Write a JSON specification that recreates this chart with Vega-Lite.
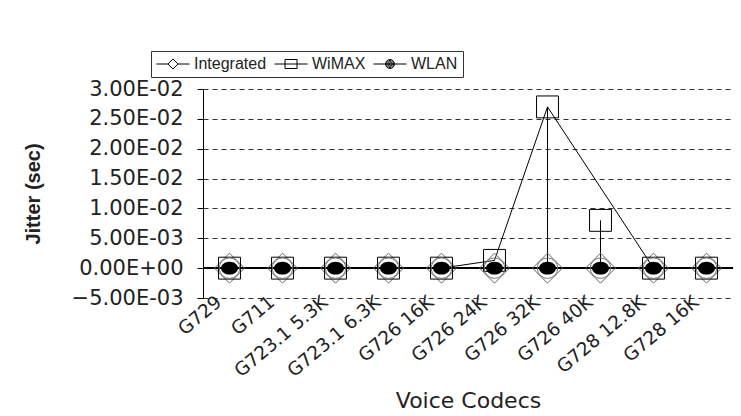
{
  "$schema": "https://vega.github.io/schema/vega-lite/v6.json",
  "width": 530,
  "height": 209,
  "autosize": {"type": "none"},
  "padding": {"left": 203, "top": 89, "right": 8, "bottom": 118},
  "background": "white",
  "config": {"view": {"stroke": null}, "font": "Liberation Sans"},
  "data": {
    "values": [
      {"series": "Integrated", "codec": "G729", "jitter": 0},
      {"series": "Integrated", "codec": "G711", "jitter": 0},
      {"series": "Integrated", "codec": "G723.1 5.3K", "jitter": 0},
      {"series": "Integrated", "codec": "G723.1 6.3K", "jitter": 0},
      {"series": "Integrated", "codec": "G726 16K", "jitter": 0},
      {"series": "Integrated", "codec": "G726 24K", "jitter": 0},
      {"series": "Integrated", "codec": "G726 32K", "jitter": 0},
      {"series": "Integrated", "codec": "G726 40K", "jitter": 0},
      {"series": "Integrated", "codec": "G728 12.8K", "jitter": 0},
      {"series": "Integrated", "codec": "G728 16K", "jitter": 0},
      {"series": "WiMAX", "codec": "G729", "jitter": 0},
      {"series": "WiMAX", "codec": "G711", "jitter": 0},
      {"series": "WiMAX", "codec": "G723.1 5.3K", "jitter": 0},
      {"series": "WiMAX", "codec": "G723.1 6.3K", "jitter": 0},
      {"series": "WiMAX", "codec": "G726 16K", "jitter": 0},
      {"series": "WiMAX", "codec": "G726 24K", "jitter": 0.0013},
      {"series": "WiMAX", "codec": "G726 32K", "jitter": 0.027},
      {"series": "WiMAX", "codec": "G726 40K", "jitter": 0.008},
      {"series": "WiMAX", "codec": "G728 12.8K", "jitter": 0},
      {"series": "WiMAX", "codec": "G728 16K", "jitter": 0},
      {"series": "WLAN", "codec": "G729", "jitter": 0},
      {"series": "WLAN", "codec": "G711", "jitter": 0},
      {"series": "WLAN", "codec": "G723.1 5.3K", "jitter": 0},
      {"series": "WLAN", "codec": "G723.1 6.3K", "jitter": 0},
      {"series": "WLAN", "codec": "G726 16K", "jitter": 0},
      {"series": "WLAN", "codec": "G726 24K", "jitter": 0},
      {"series": "WLAN", "codec": "G726 32K", "jitter": 0},
      {"series": "WLAN", "codec": "G726 40K", "jitter": 0},
      {"series": "WLAN", "codec": "G728 12.8K", "jitter": 0},
      {"series": "WLAN", "codec": "G728 16K", "jitter": 0}
    ]
  },
  "layer": [
    {
      "mark": {"type": "rule", "color": "black", "strokeWidth": 1},
      "encoding": {
        "y": {"datum": 0, "type": "quantitative", "scale": {"domain": [-0.005, 0.03], "nice": false, "zero": false}}
      }
    },
    {
      "transform": [{"filter": "datum.series == 'WiMAX' && (datum.codec == 'G726 32K' || datum.codec == 'G726 40K')"}],
      "mark": {"type": "rule", "color": "black", "strokeWidth": 1},
      "encoding": {
        "x": {"field": "codec", "type": "nominal", "scale": {"type": "point", "padding": 0.5, "domain": ["G729", "G711", "G723.1 5.3K", "G723.1 6.3K", "G726 16K", "G726 24K", "G726 32K", "G726 40K", "G728 12.8K", "G728 16K"]}},
        "y": {"field": "jitter", "type": "quantitative", "scale": {"domain": [-0.005, 0.03], "nice": false, "zero": false}},
        "y2": {"datum": 0}
      }
    },
    {
      "transform": [{"filter": "!(datum.series == 'WiMAX' && datum.codec == 'G726 40K')"}],
      "mark": {"type": "line", "color": "black", "strokeWidth": 1},
      "encoding": {
        "x": {
          "field": "codec", "type": "nominal",
          "scale": {"type": "point", "padding": 0.5, "domain": ["G729", "G711", "G723.1 5.3K", "G723.1 6.3K", "G726 16K", "G726 24K", "G726 32K", "G726 40K", "G728 12.8K", "G728 16K"]},
          "sort": null,
          "title": "Voice Codecs",
          "axis": {
            "orient": "bottom", "domain": false, "ticks": false, "grid": false,
            "labelAngle": -40, "labelAlign": "right", "labelBaseline": "middle",
            "labelFont": "DejaVu Sans", "labelFontSize": 18.5, "labelColor": "#222", "labelPadding": 1, "labelOffset": -11,
            "titleFont": "DejaVu Sans", "titleFontSize": 22, "titleFontWeight": "normal", "titleColor": "#222",
            "titleY": 102, "titleBaseline": "middle"
          }
        },
        "y": {
          "field": "jitter", "type": "quantitative",
          "scale": {"domain": [-0.005, 0.03], "nice": false, "zero": false},
          "title": "Jitter (sec)",
          "axis": {
            "values": [-0.005, 0, 0.005, 0.01, 0.015, 0.02, 0.025, 0.03],
            "tickCount": 12,
            "labelExpr": "replace(upper(format(datum.value, '.2e')), regexp('E([+-])(\\\\d)$'), 'E$10$2')",
            "labelOverlap": false,
            "grid": true, "gridDash": [5, 4], "gridColor": "#333", "gridWidth": 1,
            "domainColor": "black", "tickColor": "black", "tickSize": 6,
            "labelFont": "DejaVu Sans", "labelFontSize": 21, "labelColor": "#222", "labelPadding": 14,
            "titleFont": "Liberation Sans", "titleFontSize": 20, "titleFontWeight": "bold", "titleColor": "#222",
            "titleX": -170, "titleY": 104.5, "titleAlign": "center", "titleBaseline": "middle", "titleAngle": -90
          }
        },
        "detail": {"field": "series", "type": "nominal"}
      }
    },
    {
      "transform": [{"filter": "datum.series == 'Integrated'"}],
      "mark": {"type": "point", "shape": "diamond", "size": 900, "filled": false, "stroke": "#666", "strokeWidth": 1, "opacity": 1},
      "encoding": {
        "x": {"field": "codec", "type": "nominal"},
        "y": {"field": "jitter", "type": "quantitative", "scale": {"domain": [-0.005, 0.03], "nice": false, "zero": false}}
      }
    },
    {
      "transform": [{"filter": "datum.series == 'WiMAX'"}],
      "mark": {"type": "point", "shape": "square", "size": 480, "filled": false, "stroke": "black", "strokeWidth": 1, "opacity": 1},
      "encoding": {
        "x": {"field": "codec", "type": "nominal"},
        "y": {"field": "jitter", "type": "quantitative", "scale": {"domain": [-0.005, 0.03], "nice": false, "zero": false}}
      }
    },
    {
      "transform": [{"filter": "datum.series == 'WLAN'"}],
      "mark": {"type": "point", "shape": "circle", "size": 420, "filled": false, "stroke": "#777", "strokeWidth": 1, "opacity": 1},
      "encoding": {
        "x": {"field": "codec", "type": "nominal"},
        "y": {"field": "jitter", "type": "quantitative", "scale": {"domain": [-0.005, 0.03], "nice": false, "zero": false}}
      }
    },
    {
      "transform": [{"filter": "datum.series == 'WLAN'"}],
      "mark": {"type": "point", "shape": "M-1,0A1,0.76,0,1,1,1,0A1,0.76,0,1,1,-1,0Z", "size": 289, "filled": true, "fill": "black", "stroke": null, "opacity": 1},
      "encoding": {
        "x": {"field": "codec", "type": "nominal"},
        "y": {"field": "jitter", "type": "quantitative", "scale": {"domain": [-0.005, 0.03], "nice": false, "zero": false}}
      }
    },
    {
      "transform": [{"filter": "datum.jitter > 1"}],
      "mark": {"type": "point", "size": 225, "filled": false, "stroke": "black", "strokeWidth": 1, "opacity": 1},
      "encoding": {
        "x": {"field": "codec", "type": "nominal"},
        "y": {"field": "jitter", "type": "quantitative", "scale": {"domain": [-0.005, 0.03], "nice": false, "zero": false}},
        "shape": {
          "field": "series", "type": "nominal",
          "scale": {
            "domain": ["Integrated", "WiMAX", "WLAN"],
            "range": [
              "M-1,0H0.53M1.87,0H3.4M1.2,-0.67L1.87,0L1.2,0.67L0.53,0Z",
              "M-1,0H3.4M0.4,-0.6H2V0.6H0.4Z",
              "M-1,0H3.4M0.6,0A0.6,0.6,0,1,1,1.8,0A0.6,0.6,0,1,1,0.6,0ZM0.75,0A0.45,0.45,0,1,1,1.65,0A0.45,0.45,0,1,1,0.75,0ZM0.9,0A0.3,0.3,0,1,1,1.5,0A0.3,0.3,0,1,1,0.9,0ZM1.05,0A0.15,0.15,0,1,1,1.35,0A0.15,0.15,0,1,1,1.05,0Z"
            ]
          },
          "legend": {
            "title": null, "orient": "none", "legendX": -52, "legendY": -38, "direction": "horizontal",
            "strokeColor": "#333", "fillColor": "white", "padding": 5,
            "symbolSize": 225, "symbolStrokeColor": "black", "symbolStrokeWidth": 1,
            "labelFont": "Liberation Sans", "labelFontSize": 16, "labelColor": "#222", "labelOffset": 22, "columnPadding": 5,
            "encode": {"symbols": {"update": {
              "stroke": {"value": "black"},
              "strokeWidth": {"value": 1},
              "opacity": {"value": 1},
              "fill": [{"test": "datum.value === 'WLAN'", "value": "black"}, {"value": "transparent"}]
            }}}
          }
        }
      }
    }
  ]
}
